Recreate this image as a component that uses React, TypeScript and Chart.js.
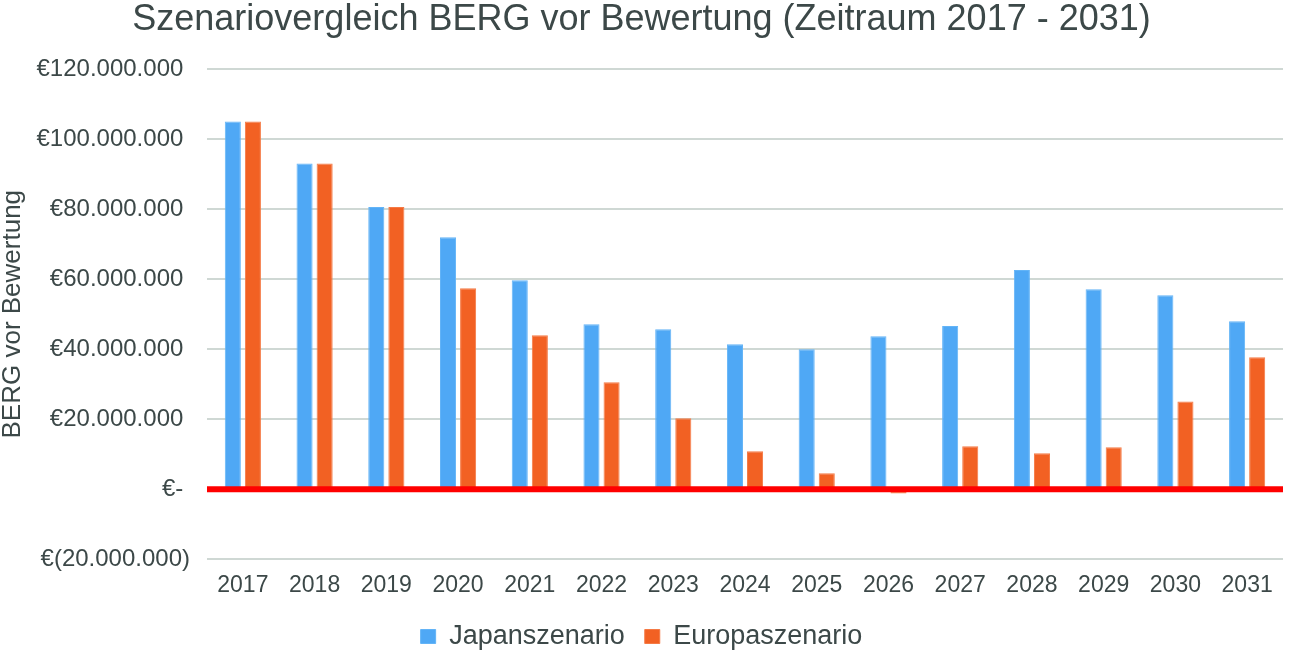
import React, { useEffect, useRef } from "react";
import { Chart, registerables } from "chart.js";

Chart.register(...registerables);

const years = ["2017","2018","2019","2020","2021","2022","2023","2024","2025","2026","2027","2028","2029","2030","2031"];
const japan = [105, 93, 80.6, 72, 59.7, 47.1, 45.7, 41.4, 40, 43.7, 46.6, 62.6, 57.1, 55.4, 48].map((v) => v * 1e6);
const europa = [105, 93, 80.6, 57.4, 44, 30.6, 20.3, 10.9, 4.6, -1.2, 12.3, 10.3, 12, 25.1, 37.7].map((v) => v * 1e6);
const seriesNames = ["Japanszenario", "Europaszenario"];
const titleText = "Szenariovergleich BERG vor Bewertung (Zeitraum 2017 - 2031)";
const yTitle = "BERG vor Bewertung";

const TEXT = "#3c4848";
const FONT = "'Liberation Sans', Arial, sans-serif";

function fmt(v: number): string {
  if (v === 0) return "€-\u2008";
  const s = Math.abs(v).toString().replace(/\B(?=(\d{3})+(?!\d))/g, ".");
  return v < 0 ? "€(" + s + ")" : "€" + s + "\u2008";
}

const zeroLine = {
  id: "zeroLine",
  afterDatasetsDraw(chart: any) {
    const y = chart.scales.y.getPixelForValue(0);
    const { left, right } = chart.chartArea;
    const ctx = chart.ctx;
    ctx.save();
    ctx.strokeStyle = "#ff0000";
    ctx.lineWidth = 6;
    ctx.beginPath();
    ctx.moveTo(left, y);
    ctx.lineTo(right, y);
    ctx.stroke();
    ctx.restore();
  },
};

export default function App() {
  const ref = useRef<HTMLCanvasElement>(null);
  useEffect(() => {
    document.body.style.margin = "0";
    const chart = new Chart(ref.current!, {
      type: "bar",
      data: {
        labels: years,
        datasets: [
          { label: seriesNames[0], data: japan, backgroundColor: "#4fa8f5", borderColor: "#63b4f7", borderWidth: 1 },
          { label: seriesNames[1], data: europa, backgroundColor: "#f26123", borderColor: "#f57a45", borderWidth: 1 },
        ],
      },
      options: {
        animation: false,
        responsive: false,
        maintainAspectRatio: false,
        layout: { padding: { left: 0, right: 9, top: 0, bottom: -6 } },
        datasets: { bar: { categoryPercentage: 0.56, barPercentage: 0.8 } },
        plugins: {
          title: {
            display: true,
            text: titleText,
            color: TEXT,
            font: { family: FONT, size: 36, weight: "normal", lineHeight: 1 },
            padding: { top: 2, bottom: 31 },
          },
          legend: {
            position: "bottom",
            labels: {
              color: TEXT,
              font: { family: FONT, size: 27 },
              boxWidth: 15,
              boxHeight: 14,
              padding: 20,
            },
          },
          tooltip: { enabled: false },
        },
        scales: {
          x: {
            grid: { display: false },
            border: { display: false },
            ticks: { color: TEXT, font: { family: FONT, size: 23 }, padding: 4 },
          },
          y: {
            min: -20e6,
            max: 120e6,
            border: { display: false },
            grid: { color: "#cfd8d4", lineWidth: 2, drawTicks: false },
            afterFit: (scale: any) => {
              scale.width = 207;
            },
            ticks: {
              stepSize: 20e6,
              color: TEXT,
              font: { family: FONT, size: 24 },
              padding: 17,
              callback: (v: any) => fmt(Number(v)),
            },
            title: {
              display: true,
              text: yTitle,
              color: TEXT,
              font: { family: FONT, size: 26, lineHeight: 1 },
              padding: { top: 0, bottom: 4 },
            },
          },
        },
      },
      plugins: [zeroLine],
    });
    return () => chart.destroy();
  }, []);
  return (
    <div style={{ width: 1292, height: 654, overflow: "hidden" }}>
      <canvas ref={ref} width={1292} height={654} style={{ display: "block" }} />
    </div>
  );
}
